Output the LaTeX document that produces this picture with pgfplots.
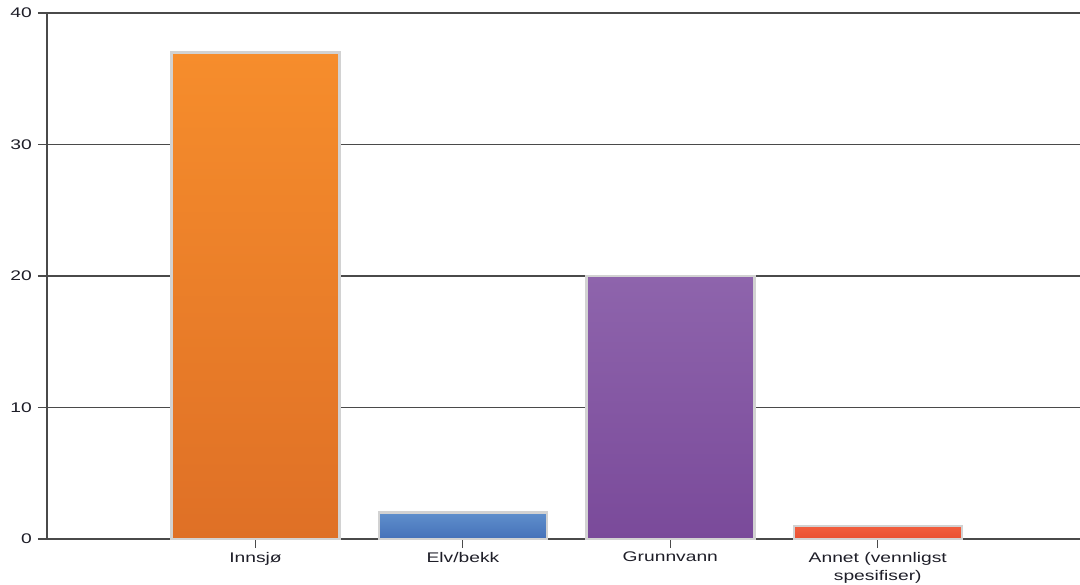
\documentclass[border=0pt]{standalone}
\usepackage{pgfplots}
\pgfplotsset{compat=1.18}
\usepackage{fontspec}
\setmainfont[FakeStretch=1.38]{Liberation Sans}

\definecolor{gridc}{HTML}{4A4A4A}
\definecolor{textc}{HTML}{1E1E28}
\definecolor{barline}{HTML}{D2D2D2}
\definecolor{orTop}{HTML}{F68D2C}
\definecolor{orBot}{HTML}{DF7026}
\definecolor{blTop}{HTML}{5F8FCC}
\definecolor{blBot}{HTML}{4571B9}
\definecolor{puTop}{HTML}{8E64AC}
\definecolor{puBot}{HTML}{7A4A9A}
\definecolor{reTop}{HTML}{F25E3E}
\definecolor{reBot}{HTML}{E95031}

\begin{document}
\begin{tikzpicture}
\begin{axis}[
  at={(47bp,46bp)}, anchor=south west,
  scale only axis, width=1033bp, height=526bp,
  xmin=-0.005, xmax=4.975, ymin=0, ymax=40,
  ytick={0,10,20,30,40},
  xtick={1,2,3,4},
  xticklabels={Innsjø, Elv/bekk, Grunnvann, {Annet (vennligst\\spesifiser)}},
  x tick label style={align=center, font=\fontsize{14}{18.5}\selectfont,
    inner sep=2bp, yshift=-2bp},
  y tick label style={font=\fontsize{14}{17}\selectfont, inner sep=3bp, xshift=-3bp},
  axis x line*=bottom, axis y line*=left,
  ymajorgrids,
  grid style={gridc, line width=1.2bp},
  axis line style={gridc, line width=1.3bp},
  tick style={gridc, line width=1.1bp},
  tick align=outside, major tick length=9bp,
  ticklabel style={text=textc},
  /pgf/number format/assume math mode=true,
  clip=false,
]
% one plot per category so each bar gets its own gradient
\addplot[ybar, bar width=0.81, bar shift=0, draw=barline, line width=2.4bp,
  top color=orTop, bottom color=orBot] coordinates {(1,37)};
\addplot[ybar, bar width=0.81, bar shift=0, draw=barline, line width=2.4bp,
  top color=blTop, bottom color=blBot] coordinates {(2,2)};
\addplot[ybar, bar width=0.81, bar shift=0, draw=barline, line width=2.4bp,
  top color=puTop, bottom color=puBot] coordinates {(3,20)};
\addplot[ybar, bar width=0.81, bar shift=0, draw=barline, line width=2.4bp,
  top color=reTop, bottom color=reBot] coordinates {(4,1)};
\end{axis}
\pgfresetboundingbox
\path (0,0) rectangle (1080bp,585bp);
\end{tikzpicture}
\end{document}
